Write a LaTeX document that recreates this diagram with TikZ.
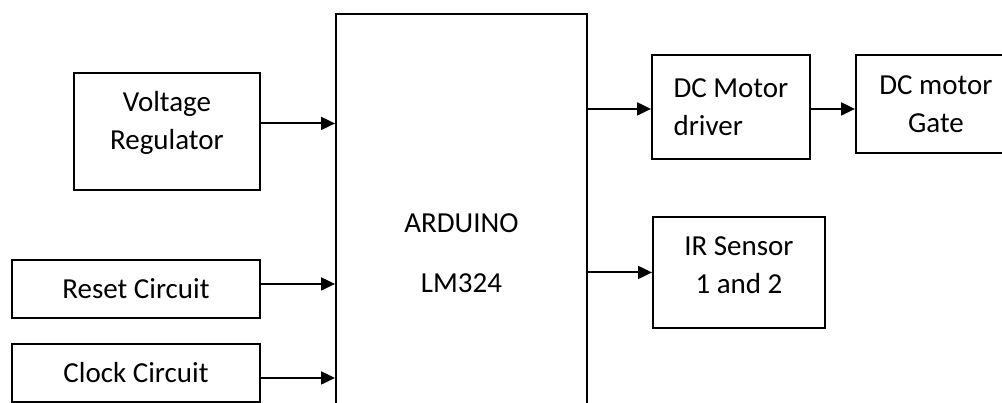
\documentclass[tikz,border=0pt]{standalone}
\usepackage{fontspec}
\setmainfont{Carlito}
\usetikzlibrary{arrows.meta}

\begin{document}
\begin{tikzpicture}[
    x=1pt, y=-1pt,
    block/.style={rectangle, draw, line width=1.9pt, inner sep=0pt, anchor=north west, align=center, font=\fontsize{29}{38}\selectfont},
    arrow/.style={-{Triangle[length=14pt, width=13pt]}, line width=2pt},
]
\useasboundingbox (0,0) rectangle (1002,403);

% inputs
\node[block, minimum width=186pt, minimum height=117pt] (volt) at (73,72) {Voltage\\Regulator\rule[-22pt]{0pt}{0pt}};
\node[block, minimum width=248pt, minimum height=58pt] (reset) at (11,259) {Reset Circuit};
\node[block, minimum width=248pt, minimum height=58pt] (clock) at (11,343) {Clock Circuit};

% controller
\node[block, minimum width=251pt, minimum height=478pt] (ard) at (335,13) {ARDUINO\\[22pt]LM324};

% outputs
\node[block, align=left, minimum width=158pt, minimum height=104pt] (driver) at (651,54) {DC Motor\\driver};
\node[block, minimum width=160pt, minimum height=98pt] (gate) at (855,54) {DC motor\\Gate};
\node[block, minimum width=172pt, minimum height=111pt] (ir) at (652,216) {IR Sensor\\1 and 2\rule[-15pt]{0pt}{0pt}};

\draw[arrow] ([yshift=8pt]volt.east) -- ([yshift=8pt]volt.east -| ard.west);
\draw[arrow] ([yshift=5pt]reset.east) -- ([yshift=5pt]reset.east -| ard.west);
\draw[arrow] ([yshift=-5pt]clock.east) -- ([yshift=-5pt]clock.east -| ard.west);
\draw[arrow] ([yshift=-2pt]driver.west -| ard.east) -- ([yshift=-2pt]driver.west);
\draw[arrow] ([yshift=-2pt]driver.east) -- ([yshift=-2pt]driver.east -| gate.west);
\draw[arrow] (ir.west -| ard.east) -- (ir.west);

\end{tikzpicture}
\end{document}
